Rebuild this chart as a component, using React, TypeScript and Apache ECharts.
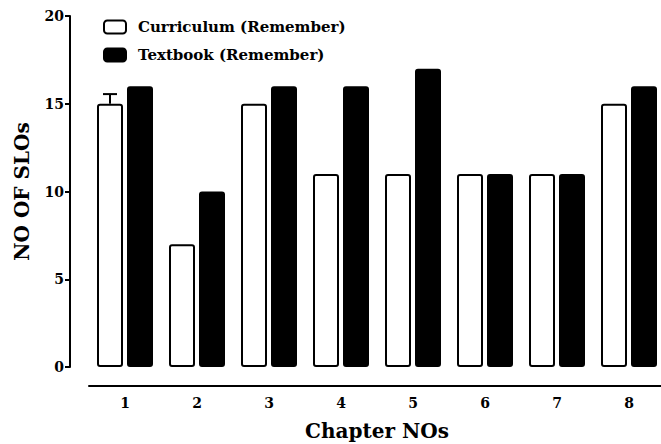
import React, { useEffect, useRef } from "react";
import * as echarts from "echarts";

const chapters = ["1", "2", "3", "4", "5", "6", "7", "8"];
const curriculum = [15, 7, 15, 11, 11, 11, 11, 15];
const textbook = [16, 10, 16, 16, 17, 11, 11, 16];
const curriculumError = [0.55, 0, 0, 0, 0, 0, 0, 0];

const FONT = "'DejaVu Serif', 'Liberation Serif', serif";
const BAR_W = 26;
const GAP_PX = 4;

export default function App() {
  const ref = useRef<HTMLDivElement>(null);
  useEffect(() => {
    if (!ref.current) return;
    const chart = echarts.init(ref.current, undefined, { renderer: "svg" });
    chart.setOption({
      animation: false,
      legend: {
        orient: "vertical",
        left: 103,
        top: 18,
        padding: 0,
        itemWidth: 22,
        itemHeight: 13,
        itemGap: 10,
        icon: "roundRect",
        textStyle: {
          fontFamily: FONT,
          fontWeight: "bold",
          fontSize: 15,
          lineHeight: 18,
          color: "#000",
          padding: [0, 0, 0, 7],
        },
        data: ["Curriculum (Remember)", "Textbook (Remember)"],
      },
      grid: { left: 89, width: 576, top: 16, bottom: 77, outerBoundsMode: "none", containLabel: false },
      xAxis: {
        type: "category",
        data: chapters,
        offset: 19,
        axisLine: { show: true, onZero: false, lineStyle: { color: "#000", width: 2 } },
        axisTick: { alignWithLabel: true, length: 5, lineStyle: { color: "#000", width: 2 } },
        axisLabel: { fontFamily: FONT, fontWeight: "bold", fontSize: 14, color: "#000", margin: 10 },
        name: "Chapter NOs",
        nameLocation: "middle",
        nameGap: 35,
        nameTextStyle: { fontFamily: FONT, fontWeight: "bold", fontSize: 20, color: "#000" },
      },
      yAxis: {
        type: "value",
        min: 0,
        max: 20,
        interval: 5,
        offset: 19,
        splitLine: { show: false },
        axisLine: { show: true, onZero: false, lineStyle: { color: "#000", width: 2 } },
        axisTick: { show: true, length: 5, lineStyle: { color: "#000", width: 2 } },
        axisLabel: { fontFamily: FONT, fontWeight: "bold", fontSize: 14, color: "#000", margin: 6 },
        name: "NO OF SLOs",
        nameLocation: "middle",
        nameGap: 38,
        nameTextStyle: { fontFamily: FONT, fontWeight: "bold", fontSize: 20, color: "#000" },
      },
      series: [
        {
          name: "Curriculum (Remember)",
          type: "bar",
          data: curriculum,
          barWidth: BAR_W,
          barGap: (GAP_PX / BAR_W) * 100 + "%",
          itemStyle: { color: "#fff", borderColor: "#000", borderWidth: 2, borderRadius: 2 },
        },
        {
          name: "Textbook (Remember)",
          type: "bar",
          data: textbook,
          barWidth: BAR_W,
          itemStyle: { color: "#000", borderColor: "#000", borderWidth: 2, borderRadius: 2 },
        },
        {
          name: "err",
          type: "custom",
          data: curriculum.map((v, i) => [i, v, v + curriculumError[i]]),
          z: 1,
          renderItem: (params: any, api: any) => {
            const idx = api.value(0);
            const base = api.coord([idx, api.value(1)]);
            const top = api.coord([idx, api.value(2)]);
            const x = base[0] - (BAR_W + GAP_PX) / 2;
            if (api.value(2) <= api.value(1)) return { type: "group", children: [] };
            const st = { stroke: "#000", lineWidth: 2 };
            return {
              type: "group",
              children: [
                { type: "line", shape: { x1: x, y1: base[1], x2: x, y2: top[1] }, style: st },
                { type: "line", shape: { x1: x - 7, y1: top[1], x2: x + 7, y2: top[1] }, style: st },
              ],
            };
          },
        },
      ],
    });
    return () => chart.dispose();
  }, []);
  return <div ref={ref} style={{ width: 661, height: 444, position: "absolute", left: 0, top: 0 }} />;
}
